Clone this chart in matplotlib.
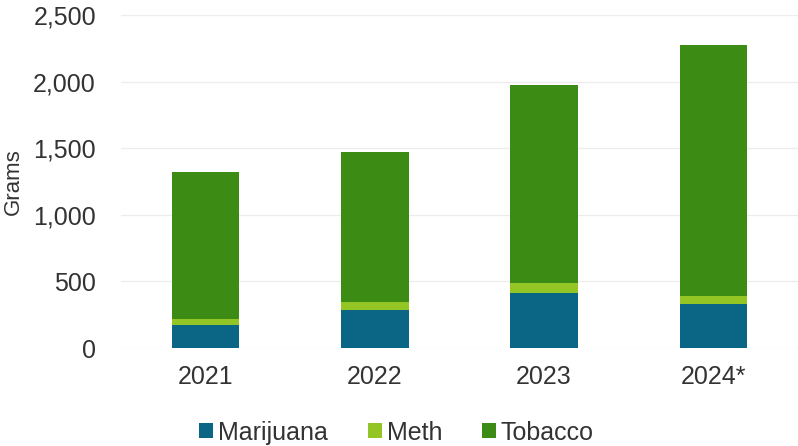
import matplotlib
matplotlib.use('Agg')
import matplotlib.pyplot as plt
import numpy as np

years = ['2021', '2022', '2023', '2024*']
marijuana = [173, 286, 411, 331]
meth = [43, 58, 75, 60]
tobacco = [1105, 1130, 1486, 1882]

col_mar = '#0b6584'
col_meth = '#93c524'
col_tob = '#3b8b14'

plt.rcParams['font.family'] = ['Liberation Sans', 'DejaVu Sans']

fig = plt.figure(figsize=(7.98, 4.46), dpi=100)
ax = fig.add_axes([0.1516, 0.2197, 0.8484, 0.7467])

x = np.arange(len(years))
w = 0.4
mar = np.array(marijuana)
me = np.array(meth)
tob = np.array(tobacco)
ax.bar(x, mar, w, color=col_mar, label='Marijuana', zorder=3)
ax.bar(x, me, w, bottom=mar, color=col_meth, label='Meth', zorder=3)
ax.bar(x, tob, w, bottom=mar + me, color=col_tob, label='Tobacco', zorder=3)

ax.set_xlim(-0.5, len(years) - 0.5)
ax.set_ylim(0, 2500)
ax.set_yticks(range(0, 2501, 500))
ax.set_yticklabels([f'{v:,}' for v in range(0, 2501, 500)])
ax.set_xticks(x)
ax.set_xticklabels(years)
ax.yaxis.grid(True, color='#ececec', linewidth=0.9, zorder=0)
for s in ax.spines.values():
    s.set_visible(False)
ax.tick_params(length=0, labelsize=18, colors='#333333')
ax.tick_params(axis='y', pad=18)
ax.tick_params(axis='x', pad=12)
ax.set_ylabel('Grams', fontsize=16, color='#333333')
ax.yaxis.set_label_coords(-0.144, 0.5)

handles, labels = ax.get_legend_handles_labels()
leg = fig.legend(handles, labels, loc='center', bbox_to_anchor=(0.497, 0.03),
                 ncol=3, frameon=False, fontsize=18, handlelength=0.55,
                 handleheight=0.55, handletextpad=0.2, columnspacing=1.6)
for t in leg.get_texts():
    t.set_color('#333333')

fig.savefig('out.png', dpi=100)
